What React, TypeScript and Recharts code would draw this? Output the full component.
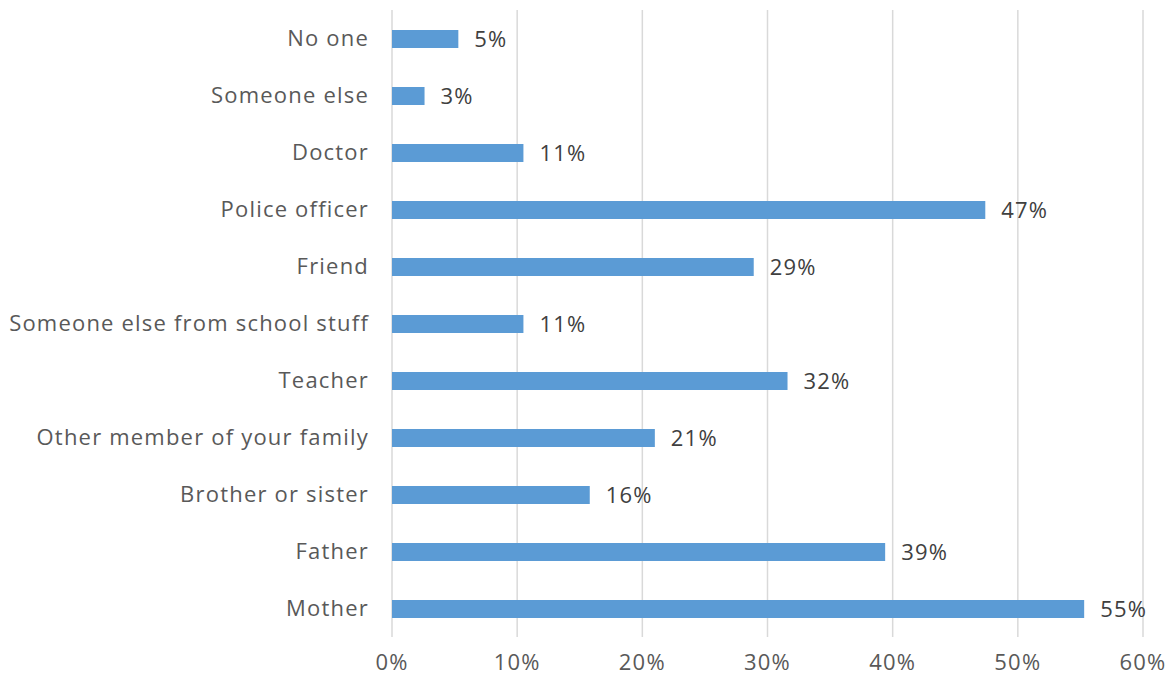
import { BarChart, Bar, XAxis, YAxis, CartesianGrid, LabelList } from 'recharts';

const categories = [
  'No one ',
  'Someone else',
  'Doctor',
  'Police officer',
  'Friend',
  'Someone else from school stuff',
  'Teacher',
  'Other member of your family',
  'Brother or sister',
  'Father',
  'Mother',
];
const shares = [5.3, 2.6, 10.5, 47.4, 28.9, 10.5, 31.6, 21.0, 15.8, 39.4, 55.3];
const xTicks = [0, 10, 20, 30, 40, 50, 60];

const data = categories.map((name, i) => ({ name, value: shares[i] }));

const font = '"Century Gothic", "Open Sans", sans-serif';
const textStyle = { fontSize: 22, fontFamily: font, letterSpacing: 1.2 };

export default function App() {
  return (
    <div style={{ position: 'absolute', left: 0, top: 0, background: '#fff' }}>
      <BarChart
        width={1175}
        height={681}
        data={data}
        layout="vertical"
        margin={{ top: 10, right: 32, left: 0, bottom: 0 }}
        barSize={18}
      >
        <CartesianGrid horizontal={false} stroke="#D9D9D9" strokeWidth={1.5} />
        <XAxis
          type="number"
          domain={[0, 60]}
          ticks={xTicks}
          tickFormatter={(v) => `${v}%`}
          axisLine={false}
          tickLine={false}
          tickSize={0}
          tickMargin={17}
          height={44}
          tick={{ fill: '#595959', ...textStyle }}
        />
        <YAxis
          type="category"
          dataKey="name"
          width={392}
          axisLine={false}
          tickLine={false}
          tickSize={0}
          tickMargin={23}
          interval={0}
          tick={{ fill: '#595959', ...textStyle }}
        />
        <Bar dataKey="value" fill="#5B9BD5" isAnimationActive={false}>
          <LabelList
            dataKey="value"
            position="right"
            offset={16}
            formatter={(v: number) => `${Math.round(v)}%`}
            style={{ fill: '#404040', ...textStyle }}
          />
        </Bar>
      </BarChart>
    </div>
  );
}
